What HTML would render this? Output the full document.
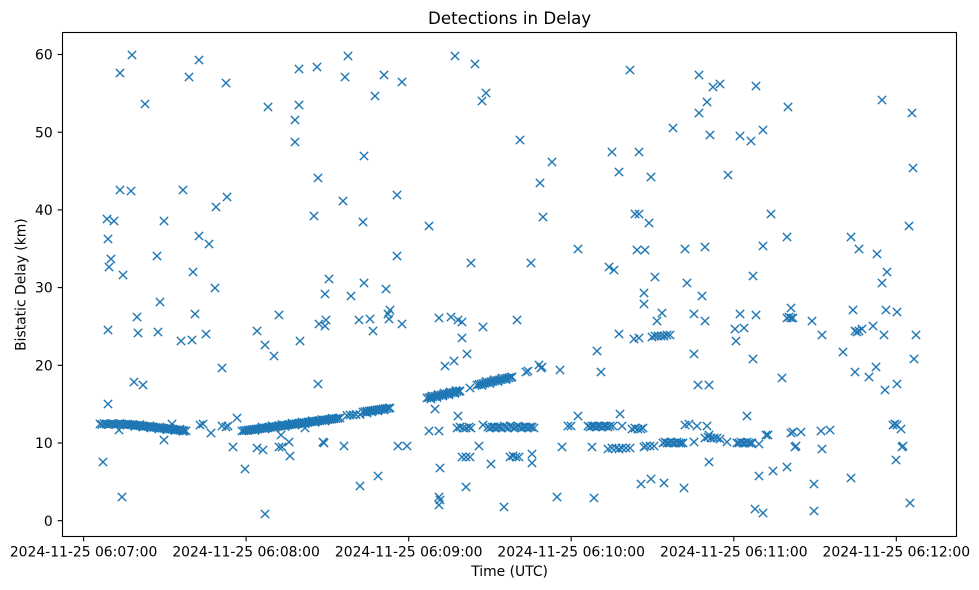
<!DOCTYPE html>
<html>
<head>
<meta charset="utf-8">
<style>
html,body{margin:0;padding:0;background:#fff;}
svg{display:block;}
text{font-family:"DejaVu Sans","Liberation Sans",sans-serif;fill:#000;}
</style>
</head>
<body>
<svg width="979" height="590" viewBox="0 0 979 590" xmlns="http://www.w3.org/2000/svg">
<defs>
<marker id="m" markerWidth="14" markerHeight="14" refX="7" refY="7" markerUnits="userSpaceOnUse" orient="0" overflow="visible">
<path d="M2.83 2.83L11.17 11.17M2.83 11.17L11.17 2.83" stroke="#1f77b4" stroke-width="1.39" fill="none"/>
</marker>
</defs>
<rect x="0" y="0" width="979" height="590" fill="#fff"/>

<!-- title -->
<text x="509.6" y="24" font-size="16.67" text-anchor="middle">Detections in Delay</text>

<!-- scatter points -->
<g fill="none" stroke="none" marker-start="url(#m)" marker-mid="url(#m)" marker-end="url(#m)">
<polyline points="107,219 114,221 108,239 111,259 109,267 123,275 120,73 132,55 145,104 120,190 131,191 157,256 164,221 183,190 189,77 199,60 199,236 209,244 216,207 227,197 226,83 193,272 268,107 299,105 295,120 295,142 299,69 317,67 318,178 314,216"/>
<polyline points="215,288 329,279 325,294 351,296 160,302 137,317 195,314 279,315 359,320 108,330 138,333 158,332 181,341 192,340 206,334 257,331 265,345 274,356 300,341 319,324 326,320 325,326 222,368 134,382 143,385 318,384 108,404 172,424 119,430 164,440 200,425 203,424 211,433 222,426 228,426 226,427 237,418 281,435 289,442 233,447 257,448 263,450 279,447 282,447 290,456 305,428 323,442 324,443 344,446 103,462 245,469 122,497 265,514 360,486"/>
<polyline points="348,56 345,77 384,75 402,82 375,96 455,56 475,64 486,93 482,101 630,70 520,140 364,156 552,162 612,152 639,152 619,172 540,183 343,201 397,195 363,222 429,226 543,217 635,214 639,214 397,256 471,263 531,263 578,249 637,250 645,250 609,267 614,270"/>
<polyline points="364,283 386,289 644,293 644,304 370,319 373,331 390,310 388,314 389,319 402,324 439,318 451,317 458,320 462,322 483,327 517,320 462,338 467,354 445,366 454,361 619,334 634,339 639,338 597,351 601,372 560,370 526,372 528,371 539,365 542,367 541,368 470,388 435,409 458,416 429,431 439,431"/>
<polyline points="457,428 460,427 463,428 466,428 469,427 471,428 483,425 488,427 490,428 492,427 494,427 496,428 498,427 500,427 502,428 504,426 506,427 508,428 510,426 512,427 514,428 516,427 518,426 520,427 522,428 524,427 526,427 528,428 530,427 532,427 534,428"/>
<polyline points="578,416 568,426 571,426 588,426 590,427 592,426 594,426 596,427 598,426 600,426 602,427 604,426 606,426 608,427 610,426 613,426 620,414 622,426 632,429 635,428 638,429 641,429 643,428"/>
<polyline points="398,446 407,446 479,446 462,457 466,457 470,457 491,464 510,457 513,456 516,457 519,457 532,454 532,463 562,447 592,447 608,449 612,448 616,448 619,449 622,448 626,448 630,448 644,447 378,476 440,468 466,487 439,497 440,500 439,505 504,507 557,497 594,498 641,484"/>
<polyline points="699,75 713,87 720,84 756,86 707,102 699,113 788,107 882,100 912,113 673,128 710,135 740,136 751,141 763,130 651,177 728,175 913,168 649,223 771,214 787,237 851,237 859,249 877,254 909,226 685,249 705,247 763,246 655,277 753,276 887,272"/>
<polyline points="687,283 882,283 702,296 662,313 657,321 694,314 705,321 740,314 756,315 735,329 744,328 736,341 791,308 787,318 789,317 791,318 793,318 812,321 822,335 853,310 886,310 897,312 855,331 857,332 859,331 862,329 873,326 884,335 916,335 652,337 655,336 658,336 661,336 664,336 667,335 670,335 694,354 753,359 843,352 914,359 782,378 855,372 869,377 876,367 885,390 897,384 698,385 709,385 747,416 685,425 689,424 697,426 707,426 646,446 650,446 654,446"/>
<polyline points="663,443 665,442 667,443 669,443 671,442 673,443 675,443 677,442 679,443 681,443 683,443 694,442 705,438 708,437 711,438 714,438 717,438 720,439 709,435 727,442 737,443 739,443 741,442 743,443 745,443 747,442 749,443 751,443 752,443 759,444 766,435 768,435 791,433 793,432 801,432 821,431 830,430 795,447 796,446 822,449 893,425 895,424 897,425 901,429 902,447 903,446 896,460 709,462 651,479 664,483 684,488 759,476 773,471 787,467 814,484 851,478 755,509 763,513 814,511 910,503"/>
<!-- band 1 -->
<polyline points="100,424 102,424.5 104,423.5 106,424 108,424.5 110,424 112,423.5 114,424 116,424.5 118,424 120,423.5 122,424 124,424.5 126,424.1 128,424.3 130,424.6 132,424.8 134,425 136,425.2 138,425.5 140,425.7 142,425.9 144,426.1 146,426.4 148,426.6 150,426.8 152,427 154,427.3 156,427.5 158,427.7 160,428 162,428.2 164,428.4 166,428.6 168,428.9 170,429.1 172,429.3 174,429.5 176,429.8 178,430 180,430.2 182,430.4 184,430.7 186,430.9"/>
<polyline points="127,425.2 135,426.3 143,427 151,428 159,428.8 167,429.6 175,430.4 183,431.2 140,424.5 150,425.8 160,427 170,428.2 180,429.2"/>
<!-- band 2 -->
<polyline points="242,431 244,430.7 246,430.5 248,430.2 250,429.9 252,429.7 254,429.4 256,429.1 258,428.9 260,428.6 262,428.3 264,428.1 266,427.8 268,427.6 270,427.3 272,427 274,426.8 276,426.5 278,426.2 280,426 282,425.7 284,425.4 286,425.2 288,424.9 290,424.6 292,424.4 294,424.1 296,423.8 298,423.6 300,423.3 302,423 304,422.8 306,422.5 308,422.2 310,422 312,421.7 314,421.4 316,421.2 318,420.9 320,420.7 322,420.4 324,420.1 326,419.9 328,419.6 330,419.3 332,419.1 334,418.8 336,418.5 338,418.3 340,418"/>
<polyline points="255,430.5 265,429 275,427.8 285,426.5 295,425 305,423.8 315,422.3 325,421 262,427 272,425.8 282,424.5 292,423.2 302,422 312,420.7 322,419.5 332,418.2"/>
<polyline points="347,415.5 350,415 353,415 356,414.5 360,414.5 363,412 365,411.7 367,411.4 369,411.1 371,410.8 373,410.5 375,410.2 377,409.9 379,409.6 381,409.3 383,409 385,408.7 387,408.4 389,408.1 390,408 367,413 372,411.8 378,410.8 384,410"/>
<!-- band B -->
<polyline points="427,398 429,397.6 431,397.2 433,396.7 435,396.3 437,395.9 439,395.5 441,395 443,394.6 445,394.2 447,393.8 449,393.3 451,392.9 453,392.5 455,392.1 457,391.6 459,391.2 460,391 431,399 437,397.5 443,396 449,394.8 455,393.5 432,396 438,394.5 444,393 450,391.8 456,390.5"/>
<!-- band C -->
<polyline points="477,385 479,384.5 481,384.1 483,383.6 485,383.2 487,382.7 489,382.3 491,381.8 493,381.4 495,380.9 497,380.5 499,380 501,379.5 503,379.1 505,378.6 507,378.2 509,377.7 511,377.2 512,377 482,385.5 490,383.5 498,381.5 506,379.5 486,381.5 494,379.8 502,378"/>
</g>

<!-- axes frame -->
<rect x="62.5" y="32.5" width="894" height="504" fill="none" stroke="#000" stroke-width="1.1"/>

<!-- y ticks -->
<g stroke="#000" stroke-width="1.1">
<line x1="57.6" y1="520.7" x2="62.5" y2="520.7"/>
<line x1="57.6" y1="443" x2="62.5" y2="443"/>
<line x1="57.6" y1="365.3" x2="62.5" y2="365.3"/>
<line x1="57.6" y1="287.6" x2="62.5" y2="287.6"/>
<line x1="57.6" y1="209.9" x2="62.5" y2="209.9"/>
<line x1="57.6" y1="132.2" x2="62.5" y2="132.2"/>
<line x1="57.6" y1="54.5" x2="62.5" y2="54.5"/>
</g>
<g font-size="13.9" text-anchor="end">
<text x="52.7" y="525.8">0</text>
<text x="52.7" y="448.1">10</text>
<text x="52.7" y="370.4">20</text>
<text x="52.7" y="292.7">30</text>
<text x="52.7" y="215">40</text>
<text x="52.7" y="137.3">50</text>
<text x="52.7" y="59.6">60</text>
</g>

<!-- x ticks -->
<g stroke="#000" stroke-width="1.1">
<line x1="83.6" y1="536.5" x2="83.6" y2="541.4"/>
<line x1="246.1" y1="536.5" x2="246.1" y2="541.4"/>
<line x1="408.7" y1="536.5" x2="408.7" y2="541.4"/>
<line x1="571.2" y1="536.5" x2="571.2" y2="541.4"/>
<line x1="733.8" y1="536.5" x2="733.8" y2="541.4"/>
<line x1="896.3" y1="536.5" x2="896.3" y2="541.4"/>
</g>
<g font-size="13.9" text-anchor="middle">
<text x="83.6" y="556.7">2024-11-25 06:07:00</text>
<text x="246.1" y="556.7">2024-11-25 06:08:00</text>
<text x="408.7" y="556.7">2024-11-25 06:09:00</text>
<text x="571.2" y="556.7">2024-11-25 06:10:00</text>
<text x="733.8" y="556.7">2024-11-25 06:11:00</text>
<text x="896.3" y="556.7">2024-11-25 06:12:00</text>
</g>

<!-- axis labels -->
<text x="509.6" y="576" font-size="13.9" text-anchor="middle">Time (UTC)</text>
<text transform="translate(25.5,284.6) rotate(-90)" font-size="13.9" text-anchor="middle">Bistatic Delay (km)</text>
</svg>
</body>
</html>
